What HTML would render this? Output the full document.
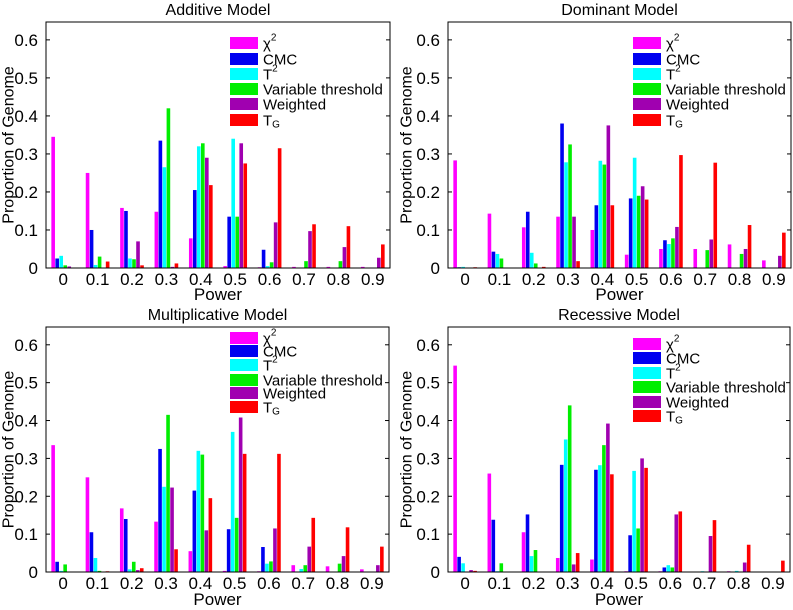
<!DOCTYPE html>
<html><head><meta charset="utf-8"><style>
html,body{margin:0;padding:0;background:#fff;}
svg{display:block;font-family:"Liberation Sans",sans-serif;}
</style></head><body>
<svg id="chart" width="793" height="610" viewBox="0 0 793 610" xmlns="http://www.w3.org/2000/svg"></svg>
<script>
const categories = ["0","0.1","0.2","0.3","0.4","0.5","0.6","0.7","0.8","0.9"];
const yTickLabels = ["0","0.1","0.2","0.3","0.4","0.5","0.6"];
const yTickValues = [0,0.1,0.2,0.3,0.4,0.5,0.6];
const seriesNames = ["chi2","CMC","T2","Variable threshold","Weighted","TG"];
const seriesColors = ["#ff00ff","#0000f0","#00ffff","#00ee00","#a000b0","#ff0000"];
// Additive
const additiveChi2 = [0.345,0.25,0.158,0.148,0.078,0.005,0.002,0.003,0.003,0.003];
const additiveCMC = [0.025,0.10,0.15,0.335,0.205,0.135,0.048,0,0,0];
const additiveT2 = [0.032,0.008,0.025,0.265,0.32,0.34,0.005,0,0,0];
const additiveVT = [0.007,0.03,0.023,0.42,0.328,0.135,0.015,0.018,0.018,0];
const additiveWeighted = [0.004,0,0.07,0.003,0.29,0.328,0.12,0.097,0.055,0.027];
const additiveTG = [0.001,0.017,0.007,0.012,0.218,0.275,0.315,0.115,0.11,0.062];
// Dominant
const dominantChi2 = [0.283,0.143,0.107,0.135,0.1,0.035,0.05,0.05,0.062,0.02];
const dominantCMC = [0.002,0.043,0.148,0.38,0.165,0.183,0.073,0,0,0];
const dominantT2 = [0.003,0.037,0.04,0.278,0.282,0.29,0.063,0,0,0];
const dominantVT = [0,0.025,0.012,0.325,0.272,0.19,0.078,0.047,0.037,0];
const dominantWeighted = [0,0.001,0,0.135,0.375,0.215,0.108,0.075,0.05,0.032];
const dominantTG = [0.002,0.001,0.003,0.018,0.165,0.18,0.297,0.277,0.113,0.093];
// Multiplicative
const multChi2 = [0.335,0.25,0.168,0.133,0.055,0.003,0.002,0.018,0.015,0.007];
const multCMC = [0.027,0.105,0.14,0.325,0.215,0.113,0.066,0,0,0];
const multT2 = [0.003,0.037,0.007,0.225,0.32,0.37,0.022,0.008,0,0];
const multVT = [0.02,0.003,0.027,0.415,0.31,0.143,0.028,0.018,0.022,0];
const multWeighted = [0,0,0.005,0.223,0.11,0.408,0.115,0.067,0.042,0.018];
const multTG = [0,0.002,0.01,0.06,0.195,0.312,0.312,0.143,0.118,0.067];
// Recessive
const recChi2 = [0.545,0.26,0.105,0.037,0.033,0.002,0.002,0.001,0.002,0];
const recCMC = [0.04,0.138,0.152,0.283,0.27,0.097,0.012,0,0,0];
const recT2 = [0.023,0.002,0.042,0.35,0.282,0.267,0.018,0.002,0.003,0];
const recVT = [0,0.023,0.058,0.44,0.335,0.115,0.012,0,0,0];
const recWeighted = [0.005,0,0,0.02,0.392,0.3,0.152,0.095,0.025,0];
const recTG = [0.003,0,0,0.05,0.258,0.275,0.16,0.137,0.072,0.03];

const NS="http://www.w3.org/2000/svg";
const svg=document.getElementById('chart');
function mk(tag,attrs,parent){const e=document.createElementNS(NS,tag);for(const k in attrs)e.setAttribute(k,attrs[k]);(parent||svg).appendChild(e);return e;}

const panels=[
 {key:'additive',title:'Additive Model',L:46,R:390,T:22,B:268,ylx:9,legX:230,legY:[43,59,74,89,104,120],data:[additiveChi2,additiveCMC,additiveT2,additiveVT,additiveWeighted,additiveTG],tickY:285,powY:300},
 {key:'dominant',title:'Dominant Model',L:448,R:791,T:22,B:268,ylx:407,legX:633,legY:[43,59,74,89,104,120],data:[dominantChi2,dominantCMC,dominantT2,dominantVT,dominantWeighted,dominantTG],tickY:285,powY:300},
 {key:'multiplicative',title:'Multiplicative Model',L:46,R:389,T:327,B:572,ylx:9,legX:230,legY:[338,351,365,380,393,407],data:[multChi2,multCMC,multT2,multVT,multWeighted,multTG],tickY:589,powY:605},
 {key:'recessive',title:'Recessive Model',L:448,R:790,T:327,B:572,ylx:407,legX:633,legY:[344,358,373,387,402,416],data:[recChi2,recCMC,recT2,recVT,recWeighted,recTG],tickY:589,powY:605}
];
const YMAX=0.647;
panels.forEach(p=>{
  const g=mk('g',{});
  
  
  const xs=u=>p.L+(u-0.5)*(p.R-p.L)/10;
  const ys=v=>p.B-v/YMAX*(p.B-p.T);
  const unit=(p.R-p.L)/10;
  const slot=0.7/6*unit;
  p.data.forEach((arr,s)=>{
    arr.forEach((v,i)=>{
      const cx=xs(i+1)+(s-2.5)*slot;
      const r=mk('rect',{x:cx-slot*0.45,y:ys(v),width:slot*0.9,height:Math.max(0,p.B-ys(v)),fill:seriesColors[s]},g);
      
      
    });
  });
  const box=mk('rect',{x:p.L,y:p.T,width:p.R-p.L,height:p.B-p.T,fill:'none',stroke:'#000','stroke-width':1},g);
  
  
  yTickValues.forEach((v,i)=>{
    const y=ys(v);
    mk('line',{x1:p.L,x2:p.L+4,y1:y,y2:y,stroke:'#000'},g);
    mk('line',{x1:p.R,x2:p.R-4,y1:y,y2:y,stroke:'#000'},g);
    const t=mk('text',{x:p.L-8,y:y+6,'text-anchor':'end','font-size':17},g);
    t.textContent=yTickLabels[i];
    
    
  });
  categories.forEach((c,i)=>{
    const t=mk('text',{x:xs(i+1),y:p.tickY,'text-anchor':'middle','font-size':17},g);
    t.textContent=c;
    
    
  });
  const tt=mk('text',{x:(p.L+p.R)/2,y:p.T-7,'text-anchor':'middle','font-size':16},g);
  tt.textContent=p.title;
  
  
  const xt=mk('text',{x:(p.L+p.R)/2,y:p.powY,'text-anchor':'middle','font-size':17},g);
  xt.textContent='Power';
  
  
  const yc=(p.T+p.B)/2;
  const yt=mk('text',{x:p.ylx,y:yc,'text-anchor':'middle','font-size':16,transform:'rotate(-90 '+p.ylx+' '+yc+')','dominant-baseline':'central'},g);
  yt.textContent='Proportion of Genome';
  
  
  const lg=mk('g',{},g);
  
  
  const labels=[['χ','2',''],['CMC','',''],['T','2',''],['Variable threshold','',''],['Weighted','',''],['T','','G']];
  labels.forEach((lb,s)=>{
    const cy=p.legY[s];
    mk('rect',{x:p.legX,y:cy-6,width:28,height:12,fill:seriesColors[s]},lg);
    const t=mk('text',{x:p.legX+33,y:cy+5.5,'font-size':15},lg);
    
    
    t.appendChild(document.createTextNode(lb[0]));
    if(lb[1]){const sp=mk('tspan',{'font-size':10,dy:-8},t);sp.textContent=lb[1];}
    if(lb[2]){const sp=mk('tspan',{'font-size':10,dy:2},t);sp.textContent=lb[2];}
  });
});
</script>
</body></html>
